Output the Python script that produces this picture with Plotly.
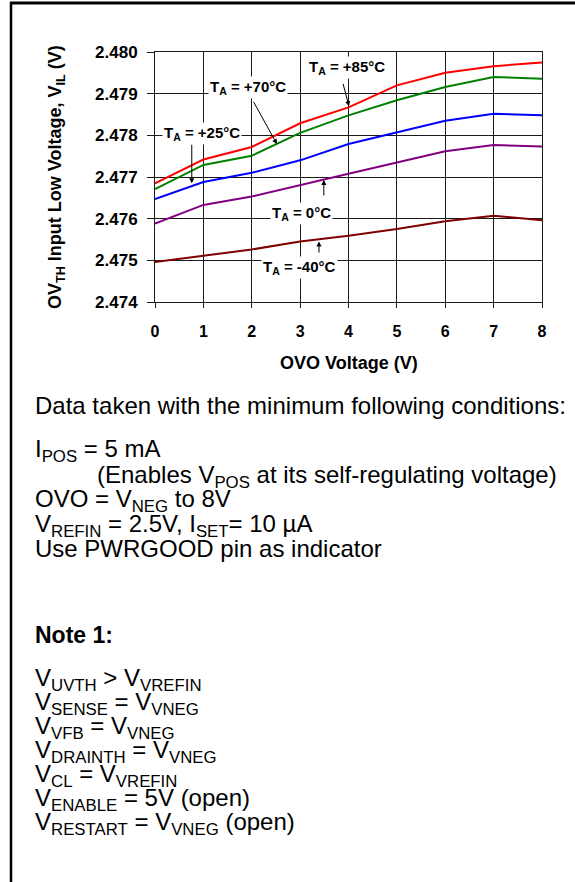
import plotly.graph_objects as go

# OVO sweep (V) and measured OV threshold (V) per ambient temperature
ovo_v = [0, 1, 2, 3, 4, 5, 6, 7, 8]
vil_85 = [2.47685, 2.47742, 2.47772, 2.47829, 2.47867, 2.47920, 2.47950, 2.47966, 2.47975]
vil_70 = [2.47671, 2.47729, 2.47751, 2.47806, 2.47848, 2.47884, 2.47916, 2.47940, 2.47936]
vil_25 = [2.47647, 2.47688, 2.47710, 2.47740, 2.47779, 2.47807, 2.47835, 2.47852, 2.47848]
vil_0 = [2.47588, 2.47633, 2.47653, 2.47681, 2.47708, 2.47735, 2.47762, 2.47777, 2.47773]
vil_m40 = [2.47496, 2.47511, 2.47526, 2.47545, 2.47559, 2.47575, 2.47594, 2.47607, 2.47596]

y_ticks = [2.474, 2.475, 2.476, 2.477, 2.478, 2.479, 2.480]

conditions = [
    "I<sub>POS</sub> = 5 mA",
    "(Enables V<sub>POS</sub> at its self-regulating voltage)",
    "OVO = V<sub>NEG</sub> to 8V",
    "V<sub>REFIN</sub> = 2.5V, I<sub>SET</sub>= 10 µA",
    "Use PWRGOOD pin as indicator",
]
note_lines = [
    "V<sub>UVTH</sub> > V<sub>VREFIN</sub>",
    "V<sub>SENSE</sub> = V<sub>VNEG</sub>",
    "V<sub>VFB</sub> = V<sub>VNEG</sub>",
    "V<sub>DRAINTH</sub> = V<sub>VNEG</sub>",
    "V<sub>CL</sub> = V<sub>VREFIN</sub>",
    "V<sub>ENABLE</sub> = 5V (open)",
    "V<sub>RESTART</sub> = V<sub>VNEG</sub> (open)",
]

W, H = 575, 882
L, R, T, B = 155, 542, 52, 302   # plot area in pixels


def px(x):
    return (x - L) / (R - L)


def py(y):
    return (B - y) / (B - T)


FONT = "Liberation Sans, Arial, sans-serif"

fig = go.Figure()
series = [
    (vil_85, "#ff0000"),
    (vil_70, "#008000"),
    (vil_25, "#0000ff"),
    (vil_0, "#800080"),
    (vil_m40, "#800000"),
]
for vals, col in series:
    fig.add_trace(go.Scatter(x=ovo_v, y=vals, mode="lines",
                             line=dict(color=col, width=2), showlegend=False,
                             hoverinfo="skip"))

# temperature labels + arrows (label centre, arrow tail, arrow tip)
labels = [
    ("T<sub>A</sub> = +85°C", 3.96, 2.47964, (3.88, 2.47927), (4.01, 2.47870)),
    ("T<sub>A</sub> = +70°C", 1.92, 2.47916, (2.02, 2.47884), (2.52, 2.47779)),
    ("T<sub>A</sub> = +25°C", 0.97, 2.47805, (0.76, 2.47781), (0.76, 2.47685)),
    ("T<sub>A</sub> = 0°C", 3.02, 2.47613, (3.49, 2.47652), (3.49, 2.47693)),
    ("T<sub>A</sub> = -40°C", 2.98, 2.47482, (3.39, 2.47515), (3.39, 2.47545)),
]
annotations = []
for txt, lx, ly, tail, tip in labels:
    annotations.append(dict(x=lx, y=ly, xref="x", yref="y", text=txt, showarrow=False,
                            xanchor="center", yanchor="middle",
                            font=dict(size=15, color="black", family=FONT, weight="bold"),
                            bgcolor="white", borderpad=1))
    annotations.append(dict(x=tip[0], y=tip[1], ax=tail[0], ay=tail[1], xref="x", yref="y",
                            axref="x", ayref="y", text="", showarrow=True,
                            arrowhead=2, arrowsize=1, arrowwidth=1, arrowcolor="black",
                            standoff=0, startstandoff=0))

# axis titles
annotations.append(dict(x=px(56), y=py(177), xref="paper", yref="paper",
                        xanchor="center", yanchor="middle",
                        text="OV<sub>TH</sub> Input Low Voltage, V<sub>IL</sub> (V)",
                        textangle=-90, showarrow=False,
                        font=dict(size=18, color="black", family=FONT, weight="bold")))
annotations.append(dict(x=px(349), y=py(363), xref="paper", yref="paper",
                        xanchor="center", yanchor="middle",
                        text="OVO Voltage (V)", showarrow=False,
                        font=dict(size=18, color="black", family=FONT, weight="bold")))

# conditions text block
body = dict(size=24, color="black", family=FONT)
annotations.append(dict(x=px(33), y=py(405), xref="paper", yref="paper",
                        xanchor="left", yanchor="middle",
                        text="Data taken with the minimum following conditions:",
                        showarrow=False, font=body))
cond_y = [450, 476, 500, 525, 548]
cond_x = [33, 95, 33, 33, 33]
for txt, x0, y0 in zip(conditions, cond_x, cond_y):
    annotations.append(dict(x=px(x0), y=py(y0), xref="paper", yref="paper",
                            xanchor="left", yanchor="middle",
                            text=txt, showarrow=False, font=body))
annotations.append(dict(x=px(33), y=py(635), xref="paper", yref="paper",
                        xanchor="left", yanchor="middle",
                        text="Note 1:", showarrow=False,
                        font=dict(size=23, color="black", family=FONT, weight="bold")))
for i, txt in enumerate(note_lines):
    annotations.append(dict(x=px(33), y=py(679 + i * 24), xref="paper", yref="paper",
                            xanchor="left", yanchor="middle",
                            text=txt, showarrow=False, font=body))

# outer frame (top and left edges only)
shapes = [
    dict(type="line", xref="paper", yref="paper", x0=px(10), x1=px(W), y0=py(3), y1=py(3),
         line=dict(color="black", width=3)),
    dict(type="line", xref="paper", yref="paper", x0=px(11), x1=px(11), y0=py(2), y1=py(H),
         line=dict(color="black", width=2.5)),
]

fig.update_layout(
    width=W, height=H,
    margin=dict(l=L, r=W - R, t=T, b=H - B),
    paper_bgcolor="white", plot_bgcolor="white",
    font=dict(family=FONT, color="black"),
    annotations=annotations,
    shapes=shapes,
    xaxis=dict(range=[0, 8], dtick=1, tick0=0, showgrid=True, gridcolor="#1a1a1a", gridwidth=1,
               showline=True, linecolor="#1a1a1a", linewidth=1, mirror=True, zeroline=False,
               ticks="outside", ticklen=5, tickcolor="#1a1a1a", ticklabelstandoff=10,
               tickfont=dict(size=16, family=FONT, weight="bold", color="black")),
    yaxis=dict(range=[2.474, 2.480], tickvals=y_ticks, tickformat=".3f", showgrid=True,
               gridcolor="#1a1a1a", gridwidth=1, showline=True, linecolor="#1a1a1a",
               linewidth=1, mirror=True, zeroline=False, ticks="outside", ticklen=7,
               tickcolor="#1a1a1a", ticklabelstandoff=6,
               tickfont=dict(size=17, family=FONT, weight="bold", color="black")),
)

# page body has a default 8px margin; drop it so the figure sits at the window origin
fig.write_html("out.html", config={"displayModeBar": False},
               post_script="document.body.style.margin='0';")
